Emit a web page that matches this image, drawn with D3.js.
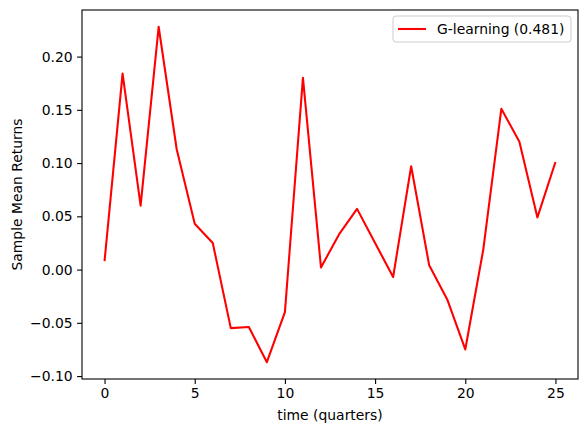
<!DOCTYPE html>
<html>
<head>
<meta charset="utf-8">
<script src="https://cdn.jsdelivr.net/npm/d3@7"></script>
<style>
  body { margin: 0; background: #fff; }
  text { font-family: "DejaVu Sans", sans-serif; fill: #000; }
  .axis path, .axis line { stroke: #000; stroke-width: 1.1; }
  .axis text { font-size: 13.9px; }
</style>
</head>
<body>
<div id="chart"></div>
<script>
// quarters and sample mean returns
var quarters = d3.range(0, 26);
var returns = [0.008, 0.184, 0.060, 0.228, 0.113, 0.043, 0.025, -0.055, -0.054, -0.087,
  -0.040, 0.180, 0.002, 0.033, 0.057, 0.025, -0.007, 0.097, 0.004, -0.028,
  -0.075, 0.019, 0.151, 0.120, 0.049, 0.101];
var xTicks = [0, 5, 10, 15, 20, 25];
var yTicks = [-0.10, -0.05, 0.00, 0.05, 0.10, 0.15, 0.20];
var seriesName = 'G-learning (0.481)';

var W = 587, H = 432;
var margin = { top: 10, left: 82, right: 9, bottom: 53 };
var width = W - margin.left - margin.right;
var height = H - margin.top - margin.bottom;

var svg = d3.select('#chart')
  .append('svg')
  .attr('width', W)
  .attr('height', H)
  .append('g')
  .attr('transform', 'translate(' + margin.left + ',' + margin.top + ')');

// matplotlib style 5% padding
var xPad = (d3.max(quarters) - d3.min(quarters)) * 0.05;
var yExt = d3.extent(returns);
var yPad = (yExt[1] - yExt[0]) * 0.05;

var x = d3.scaleLinear()
  .domain([d3.min(quarters) - xPad, d3.max(quarters) + xPad])
  .range([0, width]);

var y = d3.scaleLinear()
  .domain([yExt[0] - yPad, yExt[1] + yPad])
  .range([height, 0]);

var line = d3.line()
  .x(function(d, i) { return x(quarters[i]); })
  .y(function(d) { return y(d); });

svg.append('path')
  .datum(returns)
  .attr('fill', 'none')
  .attr('stroke', 'red')
  .attr('stroke-width', 2.08)
  .attr('stroke-linejoin', 'round')
  .attr('d', line);

var xAxis = svg.append('g')
  .attr('class', 'axis')
  .attr('transform', 'translate(0,' + height + ')')
  .call(d3.axisBottom(x).tickValues(xTicks).tickSize(4.9).tickPadding(4.5).tickFormat(d3.format('d')));

var yAxis = svg.append('g')
  .attr('class', 'axis')
  .call(d3.axisLeft(y).tickValues(yTicks).tickSize(4.9).tickPadding(4.5)
    .tickFormat(function(d) { return d3.format('.2f')(d).replace('-', '\u2212'); }));

xAxis.select('.domain').remove();
yAxis.select('.domain').remove();

// frame
svg.append('rect')
  .attr('width', width)
  .attr('height', height)
  .attr('fill', 'none')
  .attr('stroke', '#000')
  .attr('stroke-width', 1.1);

// x label
svg.append('text')
  .attr('x', width / 2)
  .attr('y', height + 41)
  .attr('text-anchor', 'middle')
  .style('font-size', '13.9px')
  .text('time (quarters)');

// y label
svg.append('text')
  .attr('transform', 'rotate(-90)')
  .attr('x', -height / 2)
  .attr('y', -60)
  .attr('text-anchor', 'middle')
  .style('font-size', '13.9px')
  .text('Sample Mean Returns');

// legend
var legend = svg.append('g')
  .attr('transform', 'translate(' + (width - 185) + ',6)');

legend.append('rect')
  .attr('width', 178)
  .attr('height', 26)
  .attr('rx', 3)
  .attr('fill', '#fff')
  .attr('fill-opacity', 0.8)
  .attr('stroke', '#ccc')
  .attr('stroke-width', 1);

legend.append('line')
  .attr('x1', 5).attr('x2', 33)
  .attr('y1', 13).attr('y2', 13)
  .attr('stroke', 'red')
  .attr('stroke-width', 2.08);

legend.append('text')
  .attr('x', 44)
  .attr('y', 18)
  .style('font-size', '13.9px')
  .text(seriesName);
</script>
</body>
</html>
